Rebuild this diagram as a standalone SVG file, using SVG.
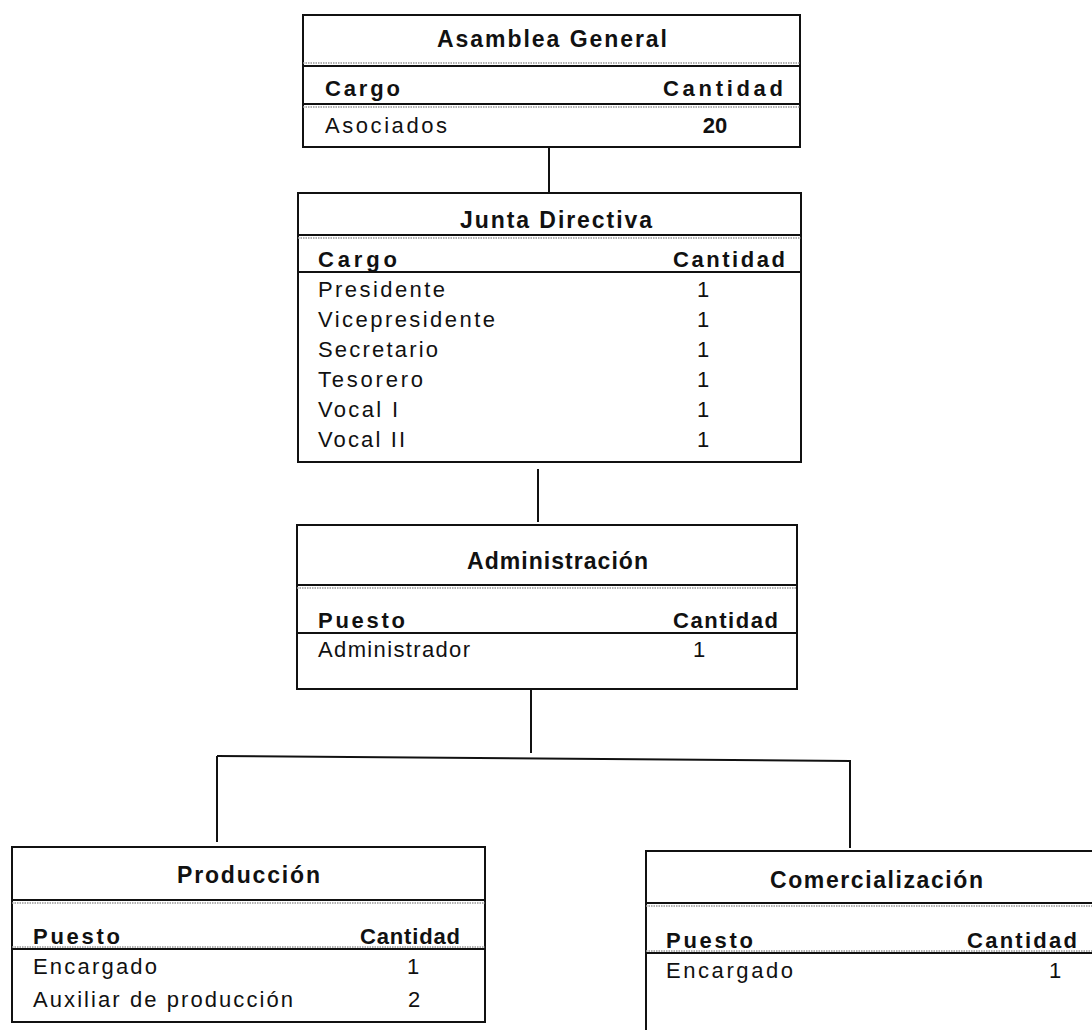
<svg xmlns="http://www.w3.org/2000/svg" width="1092" height="1030" viewBox="0 0 1092 1030">
<style>
.box{fill:#fff;stroke:#111;stroke-width:2}
.sep{stroke:#111;stroke-width:2}
.sepg{stroke:#999;stroke-width:1.5;stroke-dasharray:1.5 1}
.con{stroke:#111;stroke-width:2;fill:none}
text{font-family:"Liberation Sans",Arial,sans-serif;fill:#111}
.t{font-size:23px;font-weight:bold}
.h{font-size:22px;font-weight:bold}
.r{font-size:22px}
.n{font-size:22px;text-anchor:middle}
</style>
<rect width="1092" height="1030" fill="#fff"/>
<g id="connectors">
<line class="con" x1="549" y1="147" x2="549" y2="193"/>
<line class="con" x1="538" y1="469" x2="538" y2="522"/>
<line class="con" x1="531" y1="689" x2="531" y2="753"/>
<line class="con" x1="217" y1="756" x2="851" y2="761"/>
<line class="con" x1="217" y1="756" x2="217" y2="842"/>
<line class="con" x1="850" y1="761" x2="850" y2="848"/>
</g>
<g id="asamblea">
<rect class="box" x="303" y="15" width="497" height="132"/>
<line class="sepg" x1="303" y1="63" x2="800" y2="63"/>
<line class="sep" x1="303" y1="66" x2="800" y2="66"/>
<line class="sep" x1="303" y1="104" x2="800" y2="104"/>
<line class="sepg" x1="303" y1="107" x2="800" y2="107"/>
<text class="t" x="437" y="47" textLength="230" lengthAdjust="spacing">Asamblea General</text>
<text class="h" x="325" y="96" textLength="75" lengthAdjust="spacing">Cargo</text>
<text class="h" x="663" y="96" textLength="120" lengthAdjust="spacing">Cantidad</text>
<text class="r" x="325" y="133" textLength="122" lengthAdjust="spacing">Asociados</text>
<text class="h" x="715" y="133" text-anchor="middle">20</text>
</g>
<g id="junta">
<rect class="box" x="298" y="193" width="503" height="269"/>
<line class="sep" x1="298" y1="235" x2="801" y2="235"/>
<line class="sepg" x1="298" y1="238" x2="801" y2="238"/>
<line class="sep" x1="298" y1="272" x2="801" y2="272"/>
<text class="t" x="460" y="228" textLength="192" lengthAdjust="spacing">Junta Directiva</text>
<text class="h" x="318" y="267" textLength="79" lengthAdjust="spacing">Cargo</text>
<text class="h" x="673" y="267" textLength="112" lengthAdjust="spacing">Cantidad</text>
<text class="r" x="318" y="297" textLength="127" lengthAdjust="spacing">Presidente</text>
<text class="r" x="318" y="327" textLength="177" lengthAdjust="spacing">Vicepresidente</text>
<text class="r" x="318" y="357" textLength="120" lengthAdjust="spacing">Secretario</text>
<text class="r" x="318" y="387" textLength="105" lengthAdjust="spacing">Tesorero</text>
<text class="r" x="318" y="417" textLength="80" lengthAdjust="spacing">Vocal I</text>
<text class="r" x="318" y="447" textLength="87" lengthAdjust="spacing">Vocal II</text>
<text class="n" x="703" y="297">1</text>
<text class="n" x="703" y="327">1</text>
<text class="n" x="703" y="357">1</text>
<text class="n" x="703" y="387">1</text>
<text class="n" x="703" y="417">1</text>
<text class="n" x="703" y="447">1</text>
</g>
<g id="administracion">
<rect class="box" x="297" y="525" width="500" height="164"/>
<line class="sep" x1="297" y1="585" x2="797" y2="585"/>
<line class="sepg" x1="297" y1="588" x2="797" y2="588"/>
<line class="sep" x1="297" y1="633" x2="797" y2="633"/>
<text class="t" x="467" y="569" textLength="181" lengthAdjust="spacing">Administración</text>
<text class="h" x="318" y="628" textLength="87" lengthAdjust="spacing">Puesto</text>
<text class="h" x="673" y="628" textLength="105" lengthAdjust="spacing">Cantidad</text>
<text class="r" x="318" y="657" textLength="152" lengthAdjust="spacing">Administrador</text>
<text class="n" x="699" y="657">1</text>
</g>
<g id="produccion">
<rect class="box" x="12" y="847" width="473" height="175"/>
<line class="sep" x1="12" y1="900" x2="485" y2="900"/>
<line class="sepg" x1="12" y1="903" x2="485" y2="903"/>
<line class="sepg" x1="12" y1="947" x2="485" y2="947"/>
<line class="sep" x1="12" y1="949" x2="485" y2="949"/>
<text class="t" x="177" y="883" textLength="143" lengthAdjust="spacing">Producción</text>
<text class="h" x="33" y="944" textLength="87" lengthAdjust="spacing">Puesto</text>
<text class="h" x="360" y="944" textLength="100" lengthAdjust="spacing">Cantidad</text>
<text class="r" x="33" y="974" textLength="124" lengthAdjust="spacing">Encargado</text>
<text class="r" x="33" y="1007" textLength="260" lengthAdjust="spacing">Auxiliar de producción</text>
<text class="n" x="413" y="974">1</text>
<text class="n" x="414" y="1007">2</text>
</g>
<g id="comercializacion">
<rect class="box" x="646" y="851" width="452" height="190"/>
<line class="sep" x1="646" y1="903" x2="1092" y2="903"/>
<line class="sepg" x1="646" y1="906" x2="1092" y2="906"/>
<line class="sepg" x1="646" y1="951" x2="1092" y2="951"/>
<line class="sep" x1="646" y1="953" x2="1092" y2="953"/>
<text class="t" x="770" y="888" textLength="213" lengthAdjust="spacing">Comercialización</text>
<text class="h" x="666" y="948" textLength="87" lengthAdjust="spacing">Puesto</text>
<text class="h" x="967" y="948" textLength="110" lengthAdjust="spacing">Cantidad</text>
<text class="r" x="666" y="978" textLength="127" lengthAdjust="spacing">Encargado</text>
<text class="n" x="1055" y="978">1</text>
</g>
</svg>
